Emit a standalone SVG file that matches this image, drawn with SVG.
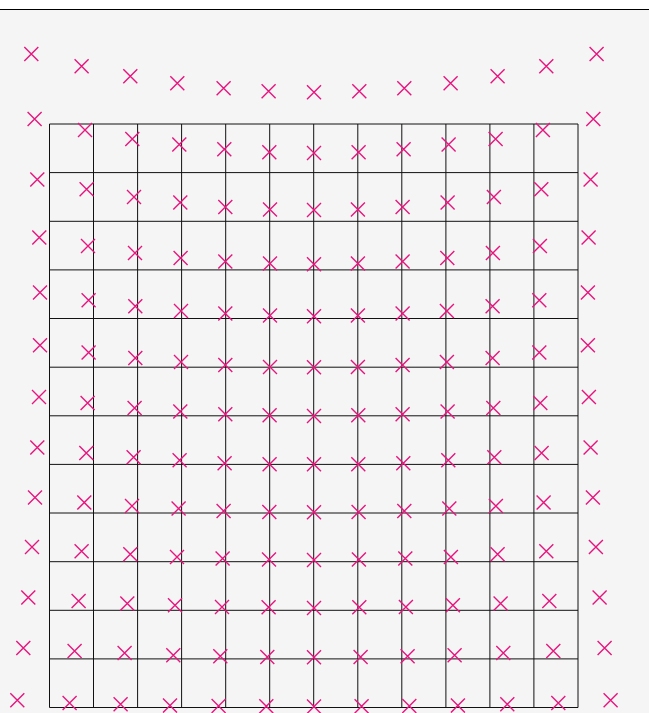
<svg xmlns="http://www.w3.org/2000/svg" xmlns:xlink="http://www.w3.org/1999/xlink" width="649" height="713" viewBox="0 0 649 713">
<style>
.bg{fill:#f5f5f5}
.top{stroke:#000;stroke-width:1}
.grid line{stroke:#111;stroke-width:1}
.mk{fill:none;stroke:#e8157f;stroke-width:1.4}
</style>
<defs>
<path id="m" class="mk" d="M-7,-7L7,7M-7,7L7,-7"/>
</defs>
<rect width="649" height="713" fill="#fff"/>
<rect class="bg" x="0" y="9.5" width="649" height="704"/>
<line class="top" x1="0" y1="9.5" x2="649" y2="9.5"/>
<g id="grid" class="grid">
<line x1="49.5" y1="124" x2="49.5" y2="707.5"/>
<line x1="93.5" y1="124" x2="93.5" y2="707.5"/>
<line x1="137.6" y1="124" x2="137.6" y2="707.5"/>
<line x1="181.6" y1="124" x2="181.6" y2="707.5"/>
<line x1="225.7" y1="124" x2="225.7" y2="707.5"/>
<line x1="269.7" y1="124" x2="269.7" y2="707.5"/>
<line x1="313.7" y1="124" x2="313.7" y2="707.5"/>
<line x1="357.8" y1="124" x2="357.8" y2="707.5"/>
<line x1="401.8" y1="124" x2="401.8" y2="707.5"/>
<line x1="445.9" y1="124" x2="445.9" y2="707.5"/>
<line x1="489.9" y1="124" x2="489.9" y2="707.5"/>
<line x1="533.9" y1="124" x2="533.9" y2="707.5"/>
<line x1="578" y1="124" x2="578" y2="707.5"/>
<line x1="49.5" y1="124" x2="578" y2="124"/>
<line x1="49.5" y1="172.6" x2="578" y2="172.6"/>
<line x1="49.5" y1="221.3" x2="578" y2="221.3"/>
<line x1="49.5" y1="269.9" x2="578" y2="269.9"/>
<line x1="49.5" y1="318.5" x2="578" y2="318.5"/>
<line x1="49.5" y1="367.2" x2="578" y2="367.2"/>
<line x1="49.5" y1="415.8" x2="578" y2="415.8"/>
<line x1="49.5" y1="464.4" x2="578" y2="464.4"/>
<line x1="49.5" y1="513" x2="578" y2="513"/>
<line x1="49.5" y1="561.7" x2="578" y2="561.7"/>
<line x1="49.5" y1="610.3" x2="578" y2="610.3"/>
<line x1="49.5" y1="658.9" x2="578" y2="658.9"/>
<line x1="49.5" y1="707.5" x2="578" y2="707.5"/>
</g>
<g id="markers" transform="translate(0.3,0.3)">
<use xlink:href="#m" x="31" y="53.7"/><use xlink:href="#m" x="81.3" y="66"/><use xlink:href="#m" x="130" y="76"/><use xlink:href="#m" x="177" y="83"/><use xlink:href="#m" x="223.3" y="88"/><use xlink:href="#m" x="268.3" y="91"/><use xlink:href="#m" x="313.7" y="92"/><use xlink:href="#m" x="359" y="91"/><use xlink:href="#m" x="404" y="88"/><use xlink:href="#m" x="450.3" y="83"/><use xlink:href="#m" x="497.3" y="76"/><use xlink:href="#m" x="546" y="66"/><use xlink:href="#m" x="596.3" y="53.7"/>
<use xlink:href="#m" x="34.3" y="118.7"/><use xlink:href="#m" x="84.7" y="129.7"/><use xlink:href="#m" x="132" y="138.7"/><use xlink:href="#m" x="179" y="144.3"/><use xlink:href="#m" x="224" y="149"/><use xlink:href="#m" x="269" y="152"/><use xlink:href="#m" x="313.7" y="152.7"/><use xlink:href="#m" x="358.3" y="152"/><use xlink:href="#m" x="403.3" y="149"/><use xlink:href="#m" x="448.3" y="144.3"/><use xlink:href="#m" x="495.3" y="138.7"/><use xlink:href="#m" x="542.6" y="129.7"/><use xlink:href="#m" x="593" y="118.7"/>
<use xlink:href="#m" x="37" y="179.3"/><use xlink:href="#m" x="86.3" y="189"/><use xlink:href="#m" x="133.7" y="196.7"/><use xlink:href="#m" x="180" y="202.3"/><use xlink:href="#m" x="225" y="206.7"/><use xlink:href="#m" x="269.7" y="209.3"/><use xlink:href="#m" x="313.7" y="209.7"/><use xlink:href="#m" x="357.6" y="209.3"/><use xlink:href="#m" x="402.3" y="206.7"/><use xlink:href="#m" x="447.3" y="202.3"/><use xlink:href="#m" x="493.6" y="196.7"/><use xlink:href="#m" x="541" y="189"/><use xlink:href="#m" x="590.3" y="179.3"/>
<use xlink:href="#m" x="39" y="237.3"/><use xlink:href="#m" x="87.7" y="245.7"/><use xlink:href="#m" x="134.7" y="252.7"/><use xlink:href="#m" x="180.3" y="257.7"/><use xlink:href="#m" x="225" y="261.3"/><use xlink:href="#m" x="269.7" y="263.3"/><use xlink:href="#m" x="313.7" y="264"/><use xlink:href="#m" x="357.6" y="263.3"/><use xlink:href="#m" x="402.3" y="261.3"/><use xlink:href="#m" x="447" y="257.7"/><use xlink:href="#m" x="492.6" y="252.7"/><use xlink:href="#m" x="539.6" y="245.7"/><use xlink:href="#m" x="588.3" y="237.3"/>
<use xlink:href="#m" x="39.7" y="292.3"/><use xlink:href="#m" x="88.3" y="300"/><use xlink:href="#m" x="135" y="306"/><use xlink:href="#m" x="180.7" y="310.7"/><use xlink:href="#m" x="225" y="313.3"/><use xlink:href="#m" x="269.7" y="315.3"/><use xlink:href="#m" x="313.7" y="316"/><use xlink:href="#m" x="357.6" y="315.3"/><use xlink:href="#m" x="402.3" y="313.3"/><use xlink:href="#m" x="446.6" y="310.7"/><use xlink:href="#m" x="492.3" y="306"/><use xlink:href="#m" x="539" y="300"/><use xlink:href="#m" x="587.6" y="292.3"/>
<use xlink:href="#m" x="39.7" y="345"/><use xlink:href="#m" x="88.3" y="352.3"/><use xlink:href="#m" x="135" y="357.7"/><use xlink:href="#m" x="180.7" y="361.7"/><use xlink:href="#m" x="225" y="364.7"/><use xlink:href="#m" x="269.7" y="366.7"/><use xlink:href="#m" x="313.7" y="367"/><use xlink:href="#m" x="357.6" y="366.7"/><use xlink:href="#m" x="402.3" y="364.7"/><use xlink:href="#m" x="446.6" y="361.7"/><use xlink:href="#m" x="492.3" y="357.7"/><use xlink:href="#m" x="539" y="352.3"/><use xlink:href="#m" x="587.6" y="345"/>
<use xlink:href="#m" x="38.7" y="396.7"/><use xlink:href="#m" x="87.3" y="402.7"/><use xlink:href="#m" x="134.3" y="407.7"/><use xlink:href="#m" x="180" y="411.3"/><use xlink:href="#m" x="225" y="414"/><use xlink:href="#m" x="269.3" y="415"/><use xlink:href="#m" x="313.7" y="415.7"/><use xlink:href="#m" x="358" y="415"/><use xlink:href="#m" x="402.3" y="414"/><use xlink:href="#m" x="447.3" y="411.3"/><use xlink:href="#m" x="493" y="407.7"/><use xlink:href="#m" x="540" y="402.7"/><use xlink:href="#m" x="588.6" y="396.7"/>
<use xlink:href="#m" x="37" y="447.3"/><use xlink:href="#m" x="86" y="452.7"/><use xlink:href="#m" x="133.3" y="457"/><use xlink:href="#m" x="179.3" y="460"/><use xlink:href="#m" x="224.3" y="463"/><use xlink:href="#m" x="269.3" y="464"/><use xlink:href="#m" x="313.7" y="464"/><use xlink:href="#m" x="358" y="464"/><use xlink:href="#m" x="403" y="463"/><use xlink:href="#m" x="448" y="460"/><use xlink:href="#m" x="494" y="457"/><use xlink:href="#m" x="541.3" y="452.7"/><use xlink:href="#m" x="590.3" y="447.3"/>
<use xlink:href="#m" x="34.7" y="497.3"/><use xlink:href="#m" x="84" y="502.3"/><use xlink:href="#m" x="131.7" y="505.7"/><use xlink:href="#m" x="178.3" y="508.3"/><use xlink:href="#m" x="223.3" y="510.7"/><use xlink:href="#m" x="269" y="511.7"/><use xlink:href="#m" x="313.7" y="512"/><use xlink:href="#m" x="358.3" y="511.7"/><use xlink:href="#m" x="404" y="510.7"/><use xlink:href="#m" x="449" y="508.3"/><use xlink:href="#m" x="495.6" y="505.7"/><use xlink:href="#m" x="543.3" y="502.3"/><use xlink:href="#m" x="592.6" y="497.3"/>
<use xlink:href="#m" x="31.7" y="546.7"/><use xlink:href="#m" x="81.3" y="551"/><use xlink:href="#m" x="130" y="554"/><use xlink:href="#m" x="176.7" y="556.7"/><use xlink:href="#m" x="222.3" y="558.3"/><use xlink:href="#m" x="268.7" y="559.3"/><use xlink:href="#m" x="313.7" y="559.7"/><use xlink:href="#m" x="358.6" y="559.3"/><use xlink:href="#m" x="405" y="558.3"/><use xlink:href="#m" x="450.6" y="556.7"/><use xlink:href="#m" x="497.3" y="554"/><use xlink:href="#m" x="546" y="551"/><use xlink:href="#m" x="595.6" y="546.7"/>
<use xlink:href="#m" x="28" y="597.3"/><use xlink:href="#m" x="78.3" y="600.7"/><use xlink:href="#m" x="127" y="603.3"/><use xlink:href="#m" x="174.7" y="605"/><use xlink:href="#m" x="221.7" y="606.7"/><use xlink:href="#m" x="268.3" y="607"/><use xlink:href="#m" x="313.7" y="607.7"/><use xlink:href="#m" x="359" y="607"/><use xlink:href="#m" x="405.6" y="606.7"/><use xlink:href="#m" x="452.6" y="605"/><use xlink:href="#m" x="500.3" y="603.3"/><use xlink:href="#m" x="549" y="600.7"/><use xlink:href="#m" x="599.3" y="597.3"/>
<use xlink:href="#m" x="23" y="647.7"/><use xlink:href="#m" x="74.3" y="650.7"/><use xlink:href="#m" x="124.3" y="652.7"/><use xlink:href="#m" x="173" y="655"/><use xlink:href="#m" x="220" y="656"/><use xlink:href="#m" x="267" y="656.7"/><use xlink:href="#m" x="313.7" y="657"/><use xlink:href="#m" x="360.3" y="656.7"/><use xlink:href="#m" x="407.3" y="656"/><use xlink:href="#m" x="454.3" y="655"/><use xlink:href="#m" x="503" y="652.7"/><use xlink:href="#m" x="553" y="650.7"/><use xlink:href="#m" x="604.3" y="647.7"/>
<use xlink:href="#m" x="17" y="700"/><use xlink:href="#m" x="69.3" y="702.7"/><use xlink:href="#m" x="120.3" y="704"/><use xlink:href="#m" x="169.7" y="705.3"/><use xlink:href="#m" x="218.3" y="705.7"/><use xlink:href="#m" x="266" y="706"/><use xlink:href="#m" x="313.7" y="706.3"/><use xlink:href="#m" x="361.3" y="706"/><use xlink:href="#m" x="409" y="705.7"/><use xlink:href="#m" x="457.6" y="705.3"/><use xlink:href="#m" x="507" y="704"/><use xlink:href="#m" x="558" y="702.7"/><use xlink:href="#m" x="610.3" y="700"/>
</g>
</svg>
